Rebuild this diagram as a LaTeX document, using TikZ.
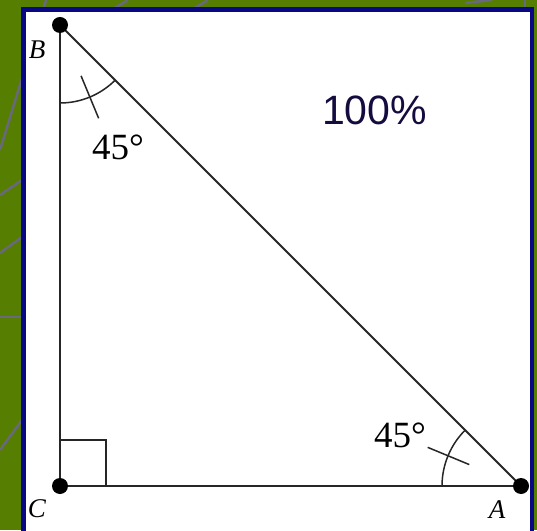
\documentclass[tikz,border=0pt]{standalone}
\usepackage{fontspec}
\setmainfont{Liberation Serif}
\newfontfamily\serif{Liberation Serif}
\newfontfamily\sansf{Liberation Sans}
\usetikzlibrary{calc}
\definecolor{bggreen}{RGB}{86,126,0}
\definecolor{bgline}{RGB}{105,105,125}
\definecolor{framenavy}{RGB}{8,8,130}
\definecolor{textnavy}{RGB}{20,12,62}
\tikzset{
  bgstroke/.style={draw=bgline, line width=2.5pt},
  side/.style={draw=black!85, line width=1.9pt},
  mark line/.style={draw=black!85, line width=1.5pt},
  vertex/.style={circle, fill=black, inner sep=0pt, minimum size=16pt},
  vlabel/.style={font=\serif\fontsize{27}{27}\selectfont\itshape, inner sep=0pt},
  anglabel/.style={font=\serif\fontsize{37}{37}\selectfont, inner sep=0pt},
}
\begin{document}
\begin{tikzpicture}[x=1pt,y=1pt]
\useasboundingbox (0,0) rectangle (537,530);
% background
\fill[bggreen] (0,0) rectangle (537,530);
\draw[bgstroke] (0,380) -- (46,530);
\draw[bgstroke] (0,335) -- (22,350);
\draw[bgstroke] (0,277) -- (22,293);
\draw[bgstroke] (0,213) -- (22,213);
\draw[bgstroke] (0,80) -- (22,110);
\draw[bgstroke] (113,521) -- (128,530);
\draw[bgstroke] (193,521) -- (208,530);
\draw[bgstroke] (465,527) -- (492,530);
\draw[bgstroke] (525,520) -- (525,530);
% white frame
\draw[fill=white, draw=framenavy, line width=4.5pt] (23.5,520.5) rectangle (532,-10);
% vertices
\coordinate (B) at (60,505);
\coordinate (C) at (60,44);
\coordinate (A) at (521,44);
\draw[side] (B) -- (C);
\draw[side] (C) -- (A);
\draw[side] (A) -- (B);
% right angle
\draw[mark line] ($(C)+(0,46)$) -- ($(C)+(46,46)$) -- ($(C)+(46,0)$);
% angle at B
\draw[mark line] ($(B)+(-90:78)$) arc[start angle=-90, end angle=-45, radius=78pt];
\draw[mark line] ($(B)+(-67.5:55)$) -- ($(B)+(-67.5:101)$);
% angle at A
\draw[mark line] ($(A)+(180:79)$) arc[start angle=180, end angle=135, radius=79pt];
\draw[mark line] ($(A)+(157.5:56)$) -- ($(A)+(157.5:101)$);
% dots
\node[vertex] (dB) at (B) {};
\node[vertex] (dC) at (C) {};
\node[vertex] (dA) at (A) {};
% labels
\node[vlabel] (lB) at (37,480) {B};
\node[vlabel] (lC) at (37,21) {C};
\node[vlabel] (lA) at (497,20) {A};
\node[anglabel] (aB) at (118,383) {45°};
\node[anglabel] (aA) at (400,95) {45°};
\node[font=\sansf\fontsize{41}{41}\selectfont, text=textnavy, inner sep=0pt] (pct) at (374.5,420) {100\%};
\end{tikzpicture}
\end{document}
